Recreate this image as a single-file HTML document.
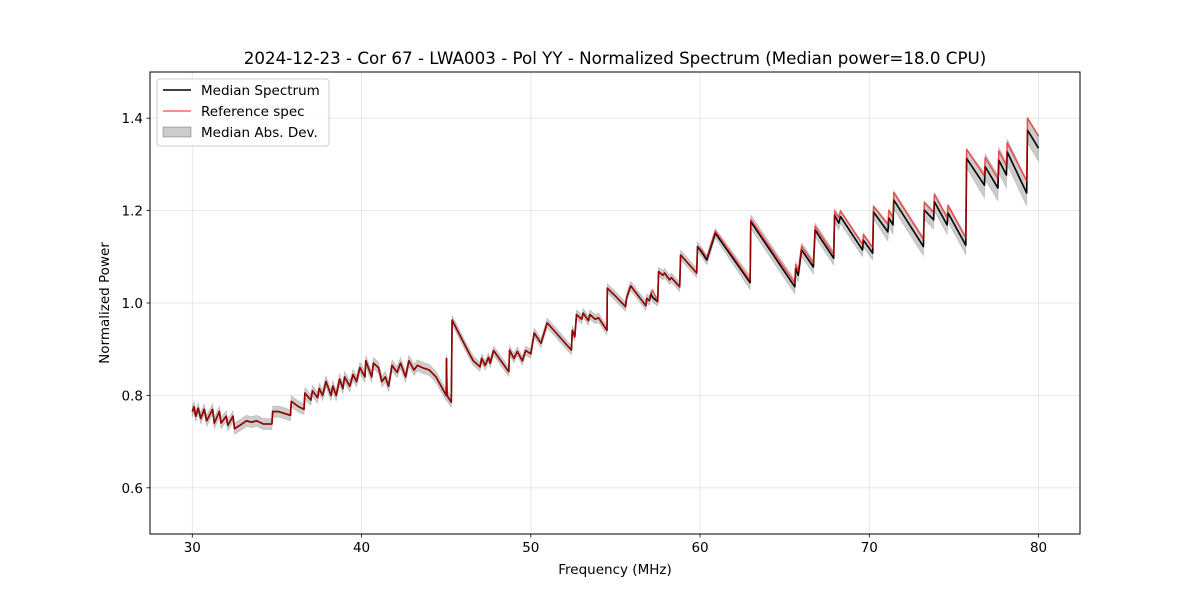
<!DOCTYPE html>
<html><head><meta charset="utf-8"><style>
body{margin:0;background:#fff;font-family:"Liberation Sans","DejaVu Sans",sans-serif}
svg text{font-family:"DejaVu Sans","Liberation Sans",sans-serif}
</style></head><body>
<svg id="chart" width="1200" height="600" xmlns="http://www.w3.org/2000/svg">
<rect width="1200" height="600" fill="#fff"/>
<g id="grid"></g>
<g id="series"></g>
<rect x="150" y="72" width="930" height="462" fill="none" stroke="#000" stroke-width="1"/>
<g id="ticks"></g>
<text x="615" y="64" font-size="16.7" text-anchor="middle">2024-12-23 - Cor 67 - LWA003 - Pol YY - Normalized Spectrum (Median power=18.0 CPU)</text>
<text x="615" y="574" font-size="13.5" text-anchor="middle">Frequency (MHz)</text>
<text x="109" y="303" font-size="13.5" text-anchor="middle" transform="rotate(-90 109 303)">Normalized Power</text>
<g>
<rect x="157" y="79" width="172" height="67" rx="3" fill="#fff" fill-opacity="0.8" stroke="#ccc"/>
<g><line x1="163" y1="90" x2="191" y2="90" stroke="#000" stroke-width="1.5"/><text x="201" y="95" font-size="13.5">Median Spectrum</text></g>
<g><line x1="163" y1="111" x2="191" y2="111" stroke="red" stroke-opacity="0.6" stroke-width="1.5"/><text x="201" y="116" font-size="13.5">Reference spec</text></g>
<g><rect x="163" y="127" width="28" height="10" fill="#000" fill-opacity="0.2" stroke="#000" stroke-opacity="0.25"/><text x="201" y="137" font-size="13.5">Median Abs. Dev.</text></g>
</g>
</svg>
<script>
const freqs=[30.0,30.1,30.2,30.35,30.5,30.7,30.85,31.2,31.3,31.6,31.7,32.0,32.1,32.4,32.5,32.8,33.2,33.5,33.8,34.2,34.7,34.75,35.1,35.8,35.85,36.3,36.6,36.65,37.0,37.1,37.4,37.5,37.7,37.9,38.2,38.3,38.5,38.7,38.9,39.0,39.3,39.5,39.7,39.9,40.2,40.25,40.6,40.7,41.0,41.2,41.4,41.6,41.8,42.1,42.3,42.6,42.8,43.1,43.3,43.6,44.0,44.4,45.0,45.02,45.05,45.3,
45.35,46.4,46.6,47.0,47.1,47.3,47.5,47.6,47.8,48.7,48.75,49.0,49.2,49.5,49.7,50.0,50.2,50.6,50.97,52.4,52.45,52.6,52.7,53.0,53.1,53.4,53.5,53.8,54.0,54.5,54.52,55.0,55.6,55.65,55.9,56.8,56.85,57.0,57.1,57.2,57.5,57.55,57.8,57.9,58.2,58.3,58.8,58.85,59.8,59.85,60.1,60.4,60.9,62.96,63.0,65.6,65.65,65.8,66.0,66.7,66.8,67.9,67.95,68.2,68.3,69.6,69.65,70.2,70.25,71.1,71.15,71.4,71.45,73.2,73.25,73.8,73.85,74.6,74.65,75.7,75.75,76.8,76.85,77.6,77.65,78.1,78.15,79.3,79.35,80.0];
const median=[.765,.775,.755,.772,.75,.77,.745,.77,.74,.765,.74,.755,.735,.755,.728,.735,.745,.742,.745,.738,.738,.765,.765,.757,.787,.775,.77,.805,.79,.81,.795,.815,.80,.83,.80,.82,.80,.835,.815,.84,.82,.845,.83,.86,.84,.875,.84,.87,.86,.83,.84,.82,.865,.85,.87,.84,.875,.855,.865,.86,.855,.84,.80,.88,.80,.785,
.963,.888,.875,.862,.88,.865,.882,.87,.897,.851,.898,.88,.895,.875,.897,.89,.935,.913,.957,.898,.941,.927,.975,.965,.978,.962,.975,.965,.968,.941,1.032,1.015,.992,1.01,1.037,.994,1.01,1.005,1.02,1.012,1.003,1.068,1.06,1.065,1.05,1.055,1.035,1.104,1.065,1.122,1.11,1.093,1.151,1.044,1.176,1.035,1.075,1.06,1.115,1.078,1.158,1.097,1.19,1.173,1.187,1.115,1.136,1.108,1.197,1.154,1.184,1.169,1.223,1.122,1.201,1.18,1.219,1.169,1.195,1.125,1.313,1.255,1.295,1.249,1.309,1.277,1.327,1.238,1.374,1.335];
const reference=[.765,.775,.755,.772,.75,.77,.745,.77,.74,.765,.74,.755,.735,.755,.728,.735,.745,.742,.745,.738,.738,.765,.765,.757,.787,.775,.77,.805,.79,.81,.795,.815,.80,.83,.80,.82,.80,.835,.815,.84,.82,.845,.83,.86,.84,.875,.84,.87,.86,.83,.84,.82,.865,.85,.87,.84,.875,.855,.865,.86,.855,.84,.80,.88,.80,.785,
.963,.888,.875,.862,.88,.865,.882,.87,.897,.851,.898,.88,.895,.875,.897,.89,.935,.913,.957,.898,.941,.927,.975,.965,.978,.962,.975,.965,.968,.941,1.032,1.015,.992,1.01,1.037,.994,1.01,1.005,1.02,1.028,1.003,1.068,1.06,1.065,1.05,1.055,1.035,1.104,1.065,1.122,1.115,1.098,1.156,1.049,1.181,1.043,1.083,1.068,1.123,1.086,1.166,1.105,1.198,1.185,1.199,1.127,1.148,1.12,1.209,1.17,1.2,1.185,1.239,1.138,1.217,1.196,1.235,1.185,1.211,1.141,1.333,1.275,1.315,1.269,1.329,1.297,1.347,1.264,1.4,1.361];
const mad=[.012,.012,.012,.012,.012,.012,.012,.012,.012,.012,.012,.012,.012,.012,.012,.012,.012,.012,.012,.012,.012,.012,.012,.012,.012,.012,.012,.012,.012,.012,.012,.012,.012,.012,.012,.012,.012,.012,.012,.012,.012,.012,.012,.012,.012,.012,.012,.012,.012,.012,.012,.012,.012,.012,.012,.012,.012,.012,.012,.012,.012,.012,.012,.012,.012,.012,
.01,.01,.01,.01,.01,.01,.01,.01,.01,.01,.01,.01,.01,.01,.01,.01,.01,.01,.01,.01,.01,.01,.01,.01,.01,.01,.01,.01,.01,.01,.01,.01,.01,.01,.01,.01,.01,.01,.01,.01,.01,.01,.01,.01,.01,.01,.01,.01,.01,.01,.01,.01,.01,
.015,.015,.015,.015,.015,.015,.015,.015,.015,.015,.015,.015,.015,.015,.015,.015,
.02,.02,.02,.02,.02,.02,.02,.02,.02,.02,.02,.02,
.028,.028,.028,.028,.028,.028,.028,.028,.028];
const xTicks=[30,40,50,60,70,80];
const yTicks=[0.6,0.8,1.0,1.2,1.4];
const xMin=27.5,xMax=82.45,yMin=0.5,yMax=1.5;
const L=150,R=1080,T=72,B=534;
function sx(v){return L+(v-xMin)/(xMax-xMin)*(R-L);}
function sy(v){return B-(v-yMin)/(yMax-yMin)*(B-T);}
const NS='http://www.w3.org/2000/svg';
function mk(tag,attrs,parent){const e=document.createElementNS(NS,tag);for(const k in attrs)e.setAttribute(k,attrs[k]);parent.appendChild(e);return e;}
const grid=document.getElementById('grid'),ticks=document.getElementById('ticks'),ser=document.getElementById('series');
xTicks.forEach(t=>{const x=sx(t);
const g=mk('line',{x1:x,x2:x,y1:T,y2:B,stroke:'#b0b0b0','stroke-opacity':0.35,'stroke-width':0.8},grid);


const tk=mk('line',{x1:x,x2:x,y1:B,y2:B+3.5,stroke:'#000','stroke-width':0.8},ticks);


const lb=mk('text',{x:x,y:B+18,'font-size':13.5,'text-anchor':'middle'},ticks);lb.textContent=t;

});
yTicks.forEach(t=>{const y=sy(t);
const g=mk('line',{x1:L,x2:R,y1:y,y2:y,stroke:'#b0b0b0','stroke-opacity':0.35,'stroke-width':0.8},grid);


const tk=mk('line',{x1:L-3.5,x2:L,y1:y,y2:y,stroke:'#000','stroke-width':0.8},ticks);


const lb=mk('text',{x:L-7,y:y+5,'font-size':13.5,'text-anchor':'end'},ticks);lb.textContent=t.toFixed(1);

});
let up='',dn='';
for(let i=0;i<freqs.length;i++){up+=(i?'L':'M')+sx(freqs[i]).toFixed(1)+','+sy(median[i]+mad[i]).toFixed(1);}
for(let i=freqs.length-1;i>=0;i--){dn+='L'+sx(freqs[i]).toFixed(1)+','+sy(median[i]-mad[i]).toFixed(1);}
const band=mk('path',{d:up+dn+'Z',fill:'#000','fill-opacity':0.2,stroke:'#000','stroke-opacity':0.15,'stroke-width':0.8},ser);


function line(arr){let d='';for(let i=0;i<freqs.length;i++)d+=(i?'L':'M')+sx(freqs[i]).toFixed(1)+','+sy(arr[i]).toFixed(1);return d;}
const ml=mk('path',{d:line(median),fill:'none',stroke:'#000','stroke-width':1.6,'stroke-linejoin':'round'},ser);


const rl=mk('path',{d:line(reference),fill:'none',stroke:'red','stroke-opacity':0.6,'stroke-width':1.6,'stroke-linejoin':'round'},ser);


</script>
</body></html>
